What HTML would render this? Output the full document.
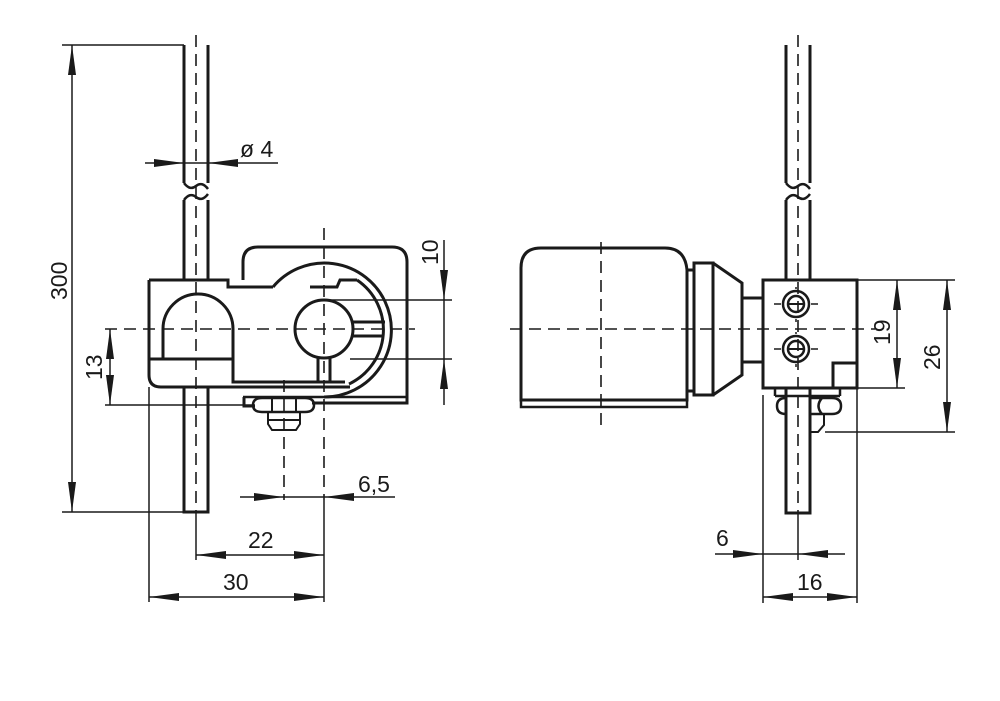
<!DOCTYPE html>
<html><head><meta charset="utf-8"><style>
html,body{margin:0;padding:0;background:#fff;width:1000px;height:701px;overflow:hidden}
svg{display:block}
text{font-family:"Liberation Sans",sans-serif;font-size:23px;fill:#1a1a1a}
</style></head><body>
<svg width="1000" height="701" viewBox="0 0 1000 701" xmlns="http://www.w3.org/2000/svg">
<defs>
<marker id="a" viewBox="0 0 30 10" refX="30" refY="5" markerWidth="30" markerHeight="10" markerUnits="userSpaceOnUse" orient="auto-start-reverse"><path d="M0,1 L30,5 L0,9 Z" fill="#1a1a1a"/></marker>
</defs>
<g fill="none" stroke="#1a1a1a">
<g stroke-width="1.6" stroke-dasharray="12,7">
<line x1="196" y1="35" x2="196" y2="512"/>
<line x1="105" y1="329" x2="415" y2="329"/>
<line x1="324" y1="228" x2="324" y2="500"/>
<line x1="284" y1="380" x2="284" y2="500"/>
<line x1="510" y1="329" x2="875" y2="329"/>
<line x1="601" y1="242" x2="601" y2="432"/>
<line x1="798" y1="35" x2="798" y2="512"/>
</g>
<!-- LEFT VIEW -->
<g stroke-width="3">
<path d="M184,45 V183 M208,45 V183 M184,200 V280 M208,200 V280 M184,387 V512 H208 V387"/>
<path d="M184,183 q6,8 12,3 q6,-5 12,3 M184,200 q6,-8 12,-3 q6,5 12,-3" stroke-width="2.5"/>
<path d="M243,280 V262 q0,-15 15,-15 H392 q15,0 15,15 V403 H312"/>
<path d="M243,397 H407" stroke-width="2.5"/>
<path d="M149,280 H228 V287 H273"/>
<path d="M310,287 H337 L340,280 H357"/>
<path d="M149,280 V375 q0,12 12,12 H350"/>
<path d="M163,359 V329 a35,35 0 0 1 70,0 V382 H345"/>
<path d="M149,359 H233"/>
<circle cx="324" cy="329" r="29"/>
<path d="M273,287 A67,67 0 1 1 324,397"/>
<path d="M357,280 A60,60 0 0 1 349,384"/>
<path d="M353,322 H385 M353,336 H384"/>
<path d="M318,358 V383 M330,358 V383"/>
<path d="M244,397 V406 H255 M312,403 H324"/>
<path d="M262,398 q-9,0 -9,7 q0,7 9,7 H305 q9,0 9,-7 q0,-7 -9,-7 Z" stroke-width="2.5"/>
<path d="M272,398 V412 M296,398 V412" stroke-width="2"/>
<path d="M268,412 V424 L272,430 H296 L300,424 V412 M268,420 H300" stroke-width="2"/>
</g>
<!-- RIGHT VIEW -->
<g stroke-width="3">
<path d="M521,400 V268 q0,-20 20,-20 H665 q20,0 22,22 V400 Z"/>
<path d="M521,400 V407 H687 V400" stroke-width="2.5"/>
<path d="M687,270 H694 V391 H687"/>
<path d="M694,263 H713 V395 H694 Z"/>
<path d="M713,263 L742,283 V375 L713,395"/>
<path d="M742,298 H763 M742,362 H763"/>
<rect x="763" y="280" width="94" height="108"/>
<path d="M833,388 V363 H857"/>
<path d="M786,45 V183 M810,45 V183 M786,200 V280 M810,200 V280 M786,388 V513 H810 V388"/>
<path d="M786,183 q6,8 12,3 q6,-5 12,3 M786,200 q6,-8 12,-3 q6,5 12,-3" stroke-width="2.5"/>
<circle cx="796" cy="304" r="13" stroke-width="2.5"/>
<circle cx="796" cy="304" r="8" stroke-width="2.5"/>
<circle cx="796" cy="349" r="13" stroke-width="2.5"/>
<circle cx="796" cy="349" r="8" stroke-width="2.5"/>
<path d="M788,304 H804 M788,349 H804" stroke-width="2"/>
<path d="M775,388 V396 M840,388 V396 M775,396 H840" stroke-width="2.5"/>
<path d="M786,398 q-9,0 -9,8 q0,8 9,8 M810,398 H832 q9,0 9,8 q0,8 -9,8 H810 M822,398 q-7,8 0,16" stroke-width="2.5"/>
<path d="M810,414 H824 V425 L818,432 H810" stroke-width="2"/>
</g>
<path d="M774,304 H781 M811,304 H818 M796,287 V289 M796,319 V322 M774,349 H781 M811,349 H818 M796,332 V334 M796,364 V367" stroke-width="1.5"/>
<g stroke-width="1.5">
<line x1="62" y1="45" x2="184" y2="45"/>
<line x1="62" y1="512" x2="184" y2="512"/>
<line x1="72" y1="45" x2="72" y2="512" marker-start="url(#a)" marker-end="url(#a)"/>
<line x1="145" y1="163" x2="184" y2="163" marker-end="url(#a)"/>
<line x1="278" y1="163" x2="208" y2="163" marker-end="url(#a)"/>
<line x1="184" y1="163" x2="208" y2="163"/>
<line x1="105" y1="405" x2="255" y2="405"/>
<line x1="110" y1="329" x2="110" y2="405" marker-start="url(#a)" marker-end="url(#a)"/>
<line x1="324" y1="300" x2="452" y2="300"/>
<line x1="350" y1="359" x2="452" y2="359"/>
<line x1="444" y1="240" x2="444" y2="300" marker-end="url(#a)"/>
<line x1="444" y1="405" x2="444" y2="359" marker-end="url(#a)"/>
<line x1="444" y1="300" x2="444" y2="359"/>
<line x1="240" y1="497" x2="284" y2="497" marker-end="url(#a)"/>
<line x1="395" y1="497" x2="324" y2="497" marker-end="url(#a)"/>
<line x1="284" y1="497" x2="324" y2="497"/>
<line x1="324" y1="500" x2="324" y2="602"/>
<line x1="196" y1="512" x2="196" y2="560"/>
<line x1="149" y1="387" x2="149" y2="602"/>
<line x1="196" y1="555" x2="324" y2="555" marker-start="url(#a)" marker-end="url(#a)"/>
<line x1="149" y1="597" x2="324" y2="597" marker-start="url(#a)" marker-end="url(#a)"/>
<line x1="857" y1="280" x2="955" y2="280"/>
<line x1="833" y1="388" x2="905" y2="388"/>
<line x1="825" y1="432" x2="955" y2="432"/>
<line x1="897" y1="280" x2="897" y2="388" marker-start="url(#a)" marker-end="url(#a)"/>
<line x1="947" y1="280" x2="947" y2="432" marker-start="url(#a)" marker-end="url(#a)"/>
<line x1="763" y1="395" x2="763" y2="603"/>
<line x1="857" y1="388" x2="857" y2="603"/>
<line x1="798" y1="513" x2="798" y2="560"/>
<line x1="715" y1="554" x2="763" y2="554" marker-end="url(#a)"/>
<line x1="845" y1="554" x2="798" y2="554" marker-end="url(#a)"/>
<line x1="763" y1="554" x2="798" y2="554"/>
<line x1="763" y1="597" x2="857" y2="597" marker-start="url(#a)" marker-end="url(#a)"/>
</g>
</g>
<text x="240" y="157">ø 4</text>
<text transform="translate(67,300) rotate(-90)">300</text>
<text transform="translate(102,380) rotate(-90)">13</text>
<text transform="translate(438,265) rotate(-90)">10</text>
<text x="358" y="492">6,5</text>
<text x="248" y="548">22</text>
<text x="223" y="590">30</text>
<text transform="translate(890,345) rotate(-90)">19</text>
<text transform="translate(940,370) rotate(-90)">26</text>
<text x="716" y="546">6</text>
<text x="797" y="590">16</text>
</svg>
</body></html>
